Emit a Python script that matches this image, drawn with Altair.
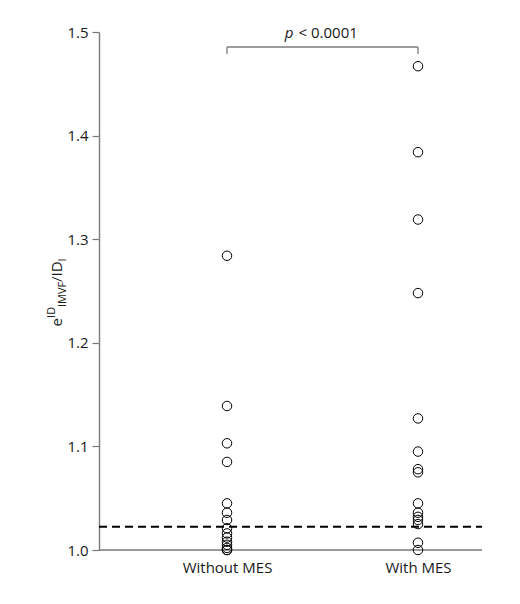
import altair as alt
import pandas as pd

# ---- data ----
categories = ["Without MES", "With MES"]
without_mes = [1.284, 1.139, 1.103, 1.085, 1.045, 1.036, 1.029, 1.021,
               1.016, 1.012, 1.008, 1.005, 1.002, 1.000, 1.000]
with_mes = [1.467, 1.384, 1.319, 1.248, 1.127, 1.095, 1.078, 1.075,
            1.045, 1.036, 1.032, 1.029, 1.025, 1.007, 1.000]
threshold = 1.0225
y_ticks = [1.0, 1.1, 1.2, 1.3, 1.4, 1.5]
bracket_y = 1.4855
bracket_drop = 1.4788
p_italic = "p"
p_text = "< 0.0001"

FONT = "Open Sans"
AXIS_GRAY = "#7a7a7a"
TEXT = "#1a1a1a"

points = pd.DataFrame({
    "group": [categories[0]] * len(without_mes) + [categories[1]] * len(with_mes),
    "value": without_mes + with_mes,
})

xscale = alt.Scale(type="point", domain=categories, range=[128, 319], padding=0)
yscale = alt.Scale(domain=[1.0, 1.5], nice=False, zero=False)

xenc = alt.X("group:N", scale=xscale, sort=categories,
             axis=alt.Axis(title=None, ticks=False, domain=False, labelAngle=0,
                           labelAlign="center", labelFlush=False, labelBound=False,
                           labelFont=FONT, labelFontSize=15, labelColor=TEXT,
                           labelPadding=17))
yenc = alt.Y("value:Q", scale=yscale,
             axis=alt.Axis(title=None, values=y_ticks, format=".1f", grid=False,
                           tickSize=7, tickColor=AXIS_GRAY, tickWidth=1.2,
                           domainColor=AXIS_GRAY, domainWidth=1.4,
                           labelFont=FONT, labelFontSize=15, labelColor=TEXT,
                           labelPadding=4))

# x baseline across the full plot width
baseline = alt.Chart(pd.DataFrame({"value": [y_ticks[0]]})).mark_rule(
    color=AXIS_GRAY, strokeWidth=1.4
).encode(x=alt.value(0), x2=alt.value(383), y=alt.Y("value:Q", scale=yscale))

# dashed threshold line
dash = alt.Chart(pd.DataFrame({"value": [threshold]})).mark_rule(
    color="black", strokeWidth=2, strokeDash=[8, 5]
).encode(x=alt.value(0), x2=alt.value(383), y=alt.Y("value:Q", scale=yscale))

pts = alt.Chart(points).mark_point(
    shape="circle", filled=False, size=90, color="black", strokeWidth=1, opacity=1
).encode(x=xenc, y=yenc)

# significance bracket
br_h = alt.Chart(pd.DataFrame({"a": [categories[0]], "b": [categories[1]], "v": [bracket_y]})).mark_rule(
    color=AXIS_GRAY, strokeWidth=1.3
).encode(x=alt.X("a:N", scale=xscale), x2="b:N", y=alt.Y("v:Q", scale=yscale))
br_v = alt.Chart(pd.DataFrame({"a": categories, "v": [bracket_y] * 2, "v2": [bracket_drop] * 2})).mark_rule(
    color=AXIS_GRAY, strokeWidth=1.3
).encode(x=alt.X("a:N", scale=xscale), y=alt.Y("v:Q", scale=yscale), y2="v2:Q")

anno = pd.DataFrame({"t": [1]})
p1 = alt.Chart(anno).mark_text(
    text=p_italic, font=FONT, fontSize=15, fontStyle="italic", color=TEXT,
    align="right", baseline="alphabetic"
).encode(x=alt.value(194.5), y=alt.value(6))
p2 = alt.Chart(anno).mark_text(
    text=p_text, font=FONT, fontSize=15, color=TEXT,
    align="left", baseline="alphabetic"
).encode(x=alt.value(199.5), y=alt.value(6))

# y-axis title e^{ID}_{IMVF}/ID_I composed from pieces (rotated)
title_parts = [
    ("e", 15, -37, 0.0),
    ("ID", 11, -44, 8.6),
    ("IMVF", 11, -33, 19.5),
    ("/ID", 15, -37, 44.5),
    ("I", 11, -33, 65.0),
]
center_page = 292.5
total = 68.0
layers_title = []
for txt, fs, bx, off in title_parts:
    layers_title.append(
        alt.Chart(anno).mark_text(
            text=txt, font=FONT, fontSize=fs, color=TEXT, angle=270,
            align="left", baseline="alphabetic"
        ).encode(x=alt.value(bx), y=alt.value(center_page - 32 + total / 2 - off))
    )

chart = alt.layer(
    baseline, dash, br_h, br_v, pts, p1, p2, *layers_title
).properties(
    width=383, height=518,
    autosize=alt.AutoSizeParams(type="none"),
    padding={"left": 91, "top": 24, "right": 30, "bottom": 46},
).configure(background="white").configure_view(strokeWidth=0, stroke=None)

chart.save("out.html", embed_options={"renderer": "svg", "actions": False})
